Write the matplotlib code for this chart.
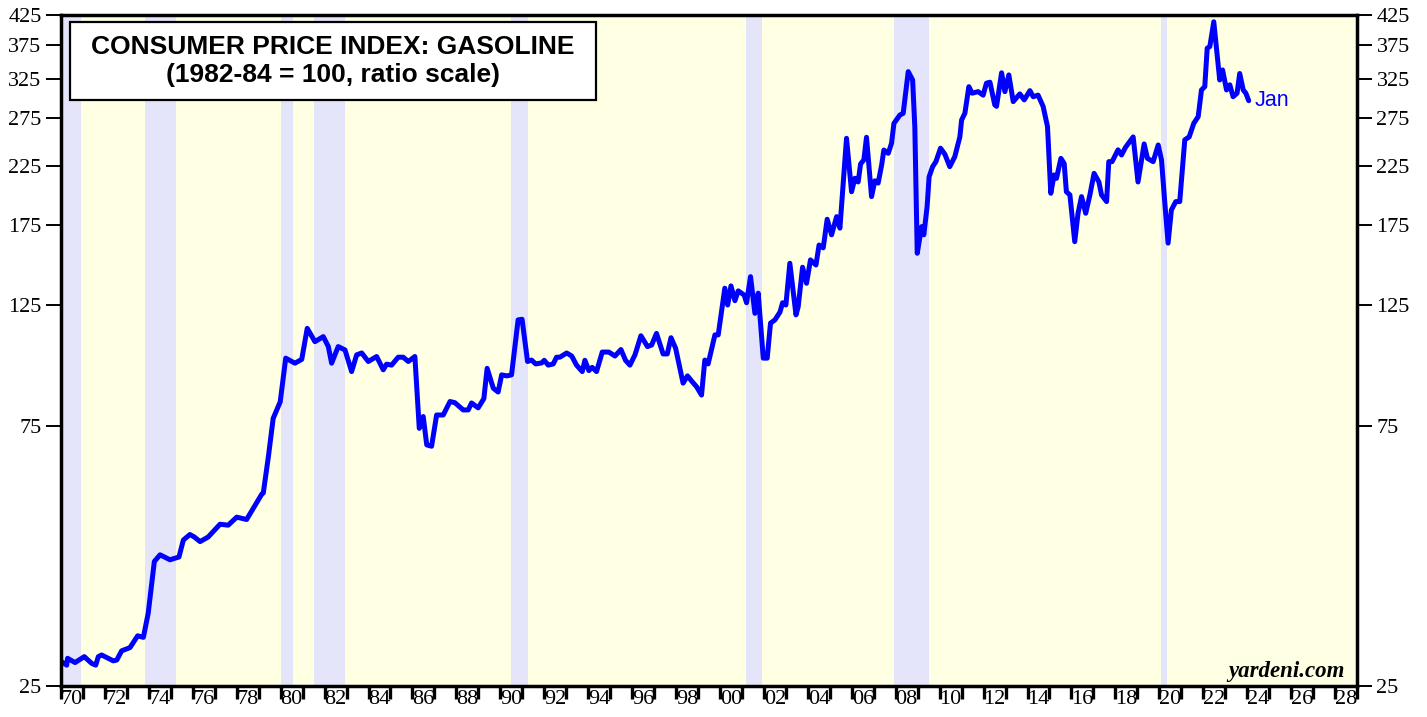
import numpy as np
import matplotlib
matplotlib.use('Agg')
import matplotlib.pyplot as plt
from matplotlib.patches import Rectangle
from matplotlib.ticker import FixedLocator, NullFormatter, NullLocator

# CPI gasoline (decimal year, index level)
years = [1970.03, 1970.26, 1970.30, 1970.64, 1971.06, 1971.40, 1971.58, 1971.70, 1971.85,
         1972.38, 1972.54, 1972.76, 1973.14, 1973.49, 1973.75, 1973.97, 1974.25, 1974.51,
         1974.96, 1975.37, 1975.57, 1975.87, 1976.07, 1976.33, 1976.70, 1977.24, 1977.61,
         1978.00, 1978.45, 1979.14, 1979.21, 1979.44, 1979.66, 1979.98, 1980.23, 1980.65,
         1980.96, 1981.21, 1981.56, 1981.94, 1982.17, 1982.32, 1982.62, 1982.93, 1983.23,
         1983.46, 1983.69, 1983.99, 1984.37, 1984.67, 1984.82, 1985.05, 1985.35, 1985.58,
         1985.81, 1986.11, 1986.31, 1986.49, 1986.65, 1986.87, 1987.10, 1987.40, 1987.71,
         1987.93, 1988.31, 1988.54, 1988.69, 1988.99, 1989.25, 1989.40, 1989.68, 1989.90,
         1990.06, 1990.30, 1990.51, 1990.81, 1990.99, 1991.24, 1991.42, 1991.61, 1991.88,
         1992.00, 1992.18, 1992.41, 1992.56, 1992.71, 1993.02, 1993.25, 1993.47, 1993.73,
         1993.85, 1994.03, 1994.18, 1994.38, 1994.64, 1994.94, 1995.22, 1995.49, 1995.70,
         1995.90, 1996.13, 1996.40, 1996.70, 1996.89, 1997.11, 1997.41, 1997.60, 1997.77,
         1997.98, 1998.32, 1998.52, 1998.73, 1998.93, 1999.16, 1999.31, 1999.46, 1999.77,
         1999.92, 2000.22, 2000.35, 2000.50, 2000.68, 2000.83, 2001.10, 2001.21, 2001.39,
         2001.59, 2001.74, 2001.97, 2002.15, 2002.30, 2002.50, 2002.73, 2002.85, 2003.00,
         2003.18, 2003.46, 2003.56, 2003.76, 2003.94, 2004.12, 2004.37, 2004.51, 2004.70,
         2004.88, 2005.08, 2005.31, 2005.46, 2005.76, 2005.99, 2006.14, 2006.29, 2006.40,
         2006.55, 2006.67, 2006.90, 2007.05, 2007.20, 2007.36, 2007.46, 2007.66, 2007.81,
         2007.92, 2008.19, 2008.34, 2008.57, 2008.77, 2008.87, 2008.98, 2009.18, 2009.28,
         2009.43, 2009.52, 2009.68, 2009.83, 2010.04, 2010.24, 2010.46, 2010.69, 2010.92,
         2011.00, 2011.15, 2011.33, 2011.48, 2011.75, 2011.98, 2012.13, 2012.29, 2012.51,
         2012.59, 2012.82, 2012.97, 2013.15, 2013.35, 2013.65, 2013.85, 2014.11, 2014.26,
         2014.48, 2014.71, 2014.91, 2015.06, 2015.21, 2015.32, 2015.52, 2015.67, 2015.77,
         2015.93, 2016.15, 2016.30, 2016.46, 2016.65, 2016.84, 2017.03, 2017.25, 2017.37,
         2017.60, 2017.70, 2017.85, 2018.12, 2018.28, 2018.46, 2018.81, 2019.03, 2019.31,
         2019.46, 2019.72, 2019.95, 2020.10, 2020.25, 2020.40, 2020.55, 2020.75, 2020.93,
         2021.16, 2021.36, 2021.57, 2021.77, 2021.92, 2022.07, 2022.18, 2022.30, 2022.48,
         2022.75, 2022.88, 2023.06, 2023.21, 2023.36, 2023.54, 2023.66, 2023.82, 2023.94,
         2024.07]
cpi = [27.7, 27.3, 28.1, 27.6, 28.3, 27.5, 27.3, 28.3, 28.5,
       27.8, 27.9, 29.0, 29.4, 30.9, 30.7, 34.0, 42.3, 43.5,
       42.6, 43.1, 46.3, 47.4, 46.9, 46.0, 46.9, 49.5, 49.3,
       51.0, 50.5, 56.2, 56.5, 65.8, 77.4, 83.0, 99.8, 97.7,
       99.3, 113.2, 107.0, 109.3, 104.8, 97.7, 104.8, 103.3, 94.3,
       101.2, 102.0, 98.4, 100.5, 95.0, 97.3, 96.9, 100.2, 100.2,
       98.4, 100.5, 74.2, 78.0, 69.2, 68.8, 78.5, 78.5, 83.1,
       82.7, 80.2, 80.2, 82.6, 80.9, 84.1, 95.6, 87.9, 86.5,
       93.0, 92.6, 93.0, 117.3, 117.6, 98.4, 99.0, 97.4, 97.8,
       98.9, 96.9, 97.4, 100.2, 100.2, 102.0, 100.7, 96.9, 94.3,
       98.9, 94.7, 96.0, 94.3, 102.4, 102.4, 100.7, 103.5, 98.9,
       96.9, 101.2, 109.7, 104.8, 105.5, 110.8, 101.6, 101.6, 108.8,
       104.1, 89.8, 92.6, 90.4, 88.5, 85.4, 99.0, 97.4, 110.1,
       110.1, 134.1, 124.9, 135.4, 127.2, 132.6, 130.3, 126.1, 140.8,
       120.6, 131.3, 99.8, 99.8, 115.7, 117.3, 121.2, 126.1, 124.9,
       149.0, 119.8, 124.0, 146.5, 136.9, 151.1, 147.9, 160.9, 159.0,
       179.4, 168.0, 181.4, 172.8, 252.5, 201.5, 213.3, 210.0, 226.6,
       230.5, 253.6, 197.4, 211.0, 209.0, 225.6, 240.3, 237.0, 247.3,
       269.0, 278.6, 280.6, 334.6, 323.0, 265.0, 155.4, 173.9, 168.0,
       189.3, 214.6, 224.0, 228.8, 242.2, 236.0, 224.0, 233.7, 254.0,
       272.8, 280.8, 314.0, 305.5, 307.5, 303.0, 318.7, 320.0, 290.8,
       289.0, 333.0, 307.5, 330.0, 294.8, 304.6, 297.0, 308.8, 301.0,
       303.0, 289.0, 265.3, 200.2, 216.3, 213.2, 232.0, 227.0, 201.5,
       198.8, 163.2, 184.0, 197.4, 184.0, 198.8, 217.8, 210.0, 198.8,
       193.3, 228.8, 228.8, 240.5, 235.3, 243.0, 254.0, 210.0, 246.6,
       232.0, 228.8, 245.5, 230.5, 192.3, 162.2, 186.6, 193.3, 193.3,
       250.9, 254.0, 269.0, 276.7, 309.7, 314.0, 369.4, 372.0, 413.0,
       323.0, 337.0, 309.7, 316.5, 301.0, 305.5, 332.0, 309.7, 305.5,
       296.0]

# NBER recessions (start, end) as decimal years
rec_start = [1969.92, 1973.83, 1980.0, 1981.5, 1990.5, 2001.17, 2007.92, 2020.08]
rec_end = [1970.92, 1975.25, 1980.58, 1982.92, 1991.25, 2001.92, 2009.5, 2020.33]

yticks = [25, 75, 125, 175, 225, 275, 325, 375, 425]
xlabel_years = list(range(1970, 2029, 2))

fig = plt.figure(figsize=(14.27, 7.17), dpi=100)
ax = fig.add_axes([61 / 1427, 31 / 717, 1296 / 1427, 671 / 717])
ax.set_facecolor('#FFFFE3')

for s, e in zip(rec_start, rec_end):
    ax.axvspan(max(s, 1970), e, color='#E4E4FA', lw=0, zorder=0)

ax.plot(years, cpi, color='#0000FF', lw=3.6, solid_joinstyle='round',
        solid_capstyle='round', zorder=3)

ax.set_yscale('log')
ax.set_ylim(25, 425)
ax.set_xlim(1970, 2029)

ax.yaxis.set_major_locator(FixedLocator(yticks))
ax.yaxis.set_minor_locator(NullLocator())
ax.set_yticklabels([str(t) for t in yticks])
ax.tick_params(axis='y', which='major', direction='out', length=11, width=1.4,
               labelsize=16, left=True, right=True, labelleft=True, labelright=True, pad=3)
for lab in ax.get_yticklabels():
    lab.set_family('Liberation Serif')

# year boundaries get tick marks, labels sit mid-year
ax.xaxis.set_major_locator(FixedLocator(np.arange(1970, 2030)))
ax.xaxis.set_major_formatter(NullFormatter())
ax.xaxis.set_minor_locator(FixedLocator([y + 0.5 for y in xlabel_years]))
ax.set_xticklabels(['%02d' % (y % 100) for y in xlabel_years], minor=True)
ax.tick_params(axis='x', which='major', direction='out', length=9, width=2.4)
ax.tick_params(axis='x', which='minor', length=0, labelsize=16, pad=3)
for lab in ax.get_xticklabels(minor=True):
    lab.set_family('Liberation Serif')

for sp in ax.spines.values():
    sp.set_linewidth(2.5)
    sp.set_zorder(5)

# title box
ax.add_patch(Rectangle((0.0069, 0.8733), 0.4059, 0.1163, transform=ax.transAxes,
                       facecolor='white', edgecolor='black', lw=1.6, zorder=6))
ax.text(0.2099, 0.952, 'CONSUMER PRICE INDEX: GASOLINE', transform=ax.transAxes,
        ha='center', va='center', fontsize=19, fontweight='bold',
        family='Liberation Sans', zorder=7)
ax.text(0.2099, 0.9106, '(1982-84 = 100, ratio scale)', transform=ax.transAxes,
        ha='center', va='center', fontsize=19, fontweight='bold',
        family='Liberation Sans', zorder=7)

ax.text(2024.35, 296, 'Jan', color='#0000FF', fontsize=15.5, va='center', ha='left',
        family='Liberation Sans', zorder=7)

ax.text(0.9907, 0.013, 'yardeni.com', transform=ax.transAxes, ha='right', va='baseline',
        fontsize=16.5, fontweight='bold', style='italic', family='Liberation Serif', zorder=7)

fig.savefig('out.png', dpi=100)
